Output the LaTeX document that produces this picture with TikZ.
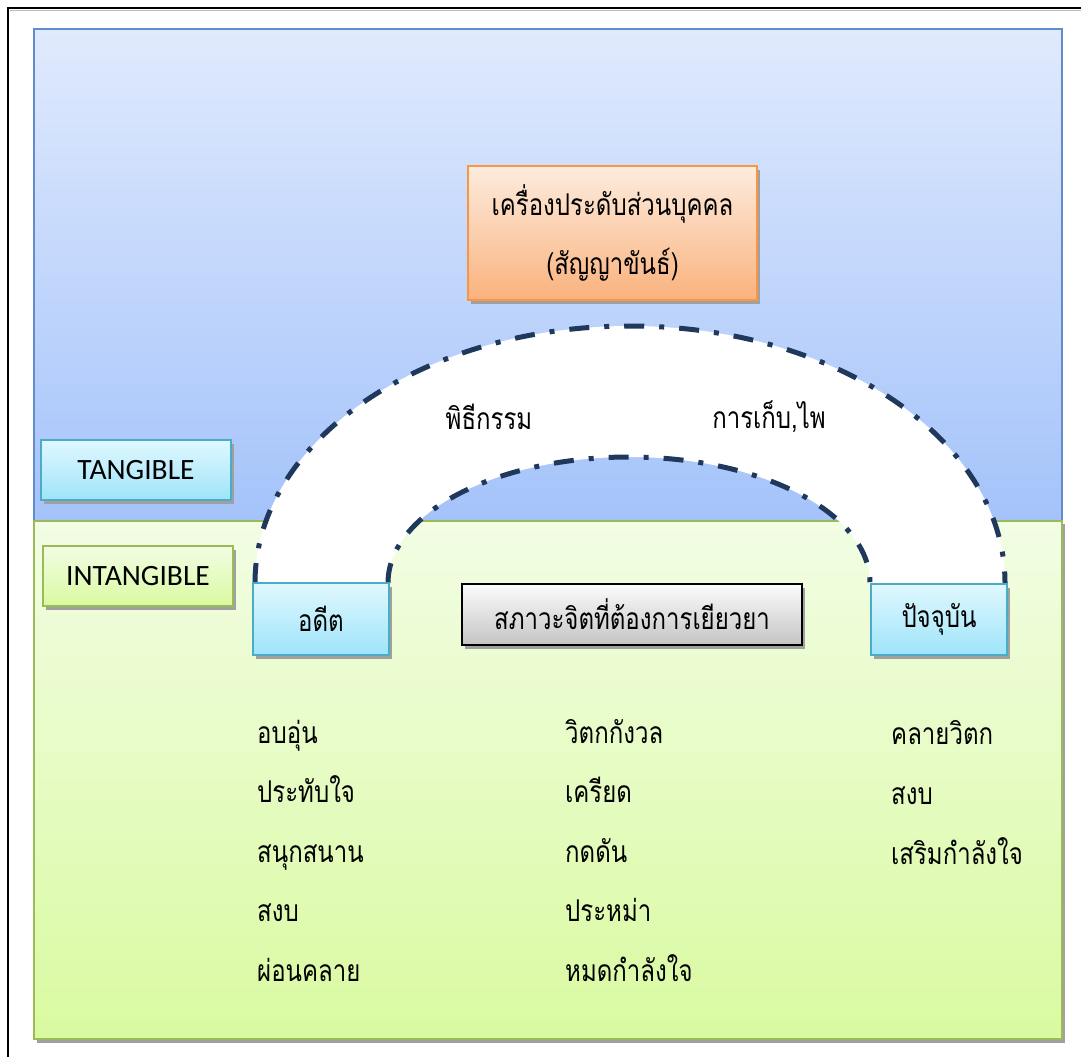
\documentclass[tikz,border=0pt]{standalone}
\usepackage{fontspec}
\setmainfont{Carlito}
\newfontfamily\thai[Script=Thai,FakeStretch=0.8]{Loma}
\usetikzlibrary{shadows}
\definecolor{bluetop}{RGB}{224,234,253}
\definecolor{bluebot}{RGB}{164,195,250}
\definecolor{blueedge}{RGB}{100,140,205}
\definecolor{greentop}{RGB}{242,253,228}
\definecolor{greenbot}{RGB}{217,250,160}
\definecolor{greenedge}{RGB}{155,187,89}
\definecolor{cyantop}{RGB}{224,248,254}
\definecolor{cyanbot}{RGB}{158,228,250}
\definecolor{cyanedge}{RGB}{75,172,198}
\definecolor{orangetop}{RGB}{253,236,222}
\definecolor{orangebot}{RGB}{250,178,125}
\definecolor{orangeedge}{RGB}{247,150,70}
\definecolor{graytop}{RGB}{252,252,252}
\definecolor{graybot}{RGB}{196,196,196}
\definecolor{arcline}{RGB}{31,56,92}
\definecolor{shadowgray}{RGB}{160,160,160}
\tikzset{
  boxshadow/.style={general shadow={fill=shadowgray, shadow xshift=3pt, shadow yshift=-4pt}},
  cyanbox/.style={boxshadow, draw=cyanedge, line width=1.5pt, top color=cyantop, bottom color=cyanbot, inner sep=0pt},
  greenbox/.style={boxshadow, draw=greenedge, line width=1.5pt, top color=greentop, bottom color=greenbot, inner sep=0pt},
  orangebox/.style={boxshadow, draw=orangeedge, line width=1.5pt, top color=orangetop, bottom color=orangebot, inner sep=0pt},
  graybox/.style={boxshadow, draw=black, line width=1.5pt, top color=graytop, bottom color=graybot, inner sep=0pt},
  latinlabel/.style={font=\fontsize{29.5}{34}\selectfont},
  thailabel/.style={font=\thai\fontsize{30}{34}\selectfont},
  listitem/.style={anchor=base west, inner sep=0pt, font=\thai\fontsize{30}{34}\selectfont},
  arcdash/.style={draw=arcline, line width=5pt, dash pattern=on 20pt off 15pt on 5pt off 15pt},
}
\begin{document}
\begin{tikzpicture}[x=1pt,y=-1pt]
\useasboundingbox (0,0) rectangle (1081,1057);
\fill[white] (0,0) rectangle (1081,1057);
% outer frame
\draw[black, line width=2.5pt] (8,1057) -- (8,8) -- (1081,8);
\draw[gray!50, line width=1pt] (10,10.5) -- (1081,10.5);
% background regions
\fill[shadowgray] (37,524) rectangle (1065,1043);
\shade[top color=bluetop, bottom color=bluebot, draw=blueedge, line width=2pt] (34,29) rectangle (1062,521);
\shade[top color=greentop, bottom color=greenbot, draw=greenedge, line width=2pt] (34,521) rectangle (1062,1039);
% arch
\fill[white] (255,583) arc[start angle=180, end angle=360, x radius=375, y radius=257]
  -- (870,583) arc[start angle=0, end angle=-180, x radius=241, y radius=126] -- cycle;
\draw[arcdash] (255,583) arc[start angle=180, end angle=360, x radius=375, y radius=257];
\draw[arcdash] (388,583) arc[start angle=180, end angle=360, x radius=241, y radius=126];
% boxes
\node[orangebox, minimum width=289pt, minimum height=134pt, align=center, thailabel] (jewel) at (612.5,233)
  {เครื่องประดับส่วนบุคคล\\[24pt](สัญญาขันธ์)};
\node[cyanbox, minimum width=190pt, minimum height=60pt, latinlabel] (tangible) at (136,470) {TANGIBLE};
\node[greenbox, minimum width=190pt, minimum height=60pt, latinlabel] (intangible) at (138,576) {INTANGIBLE};
\node[cyanbox, minimum width=136pt, minimum height=72pt, thailabel] (past) at (321,619) {อดีต};
\node[graybox, minimum width=340pt, minimum height=61pt, thailabel] (state) at (632,614.5) {สภาวะจิตที่ต้องการเยียวยา};
\node[cyanbox, minimum width=136pt, minimum height=71pt, thailabel] (present) at (939,619.5) {ปัจจุบัน};
% arch labels
\node[thailabel, inner sep=0pt] (ritual) at (489,417) {พิธีกรรม};
\node[thailabel, inner sep=0pt] (keep) at (769,417) {การเก็บ,ไพ};
% lists
\node[listitem] (a1) at (257,743) {อบอุ่น};
\node[listitem] (a2) at (257,802) {ประทับใจ};
\node[listitem] (a3) at (257,862) {สนุกสนาน};
\node[listitem] (a4) at (257,921) {สงบ};
\node[listitem] (a5) at (257,981) {ผ่อนคลาย};
\node[listitem] (b1) at (565,743) {วิตกกังวล};
\node[listitem] (b2) at (565,802) {เครียด};
\node[listitem] (b3) at (565,862) {กดดัน};
\node[listitem] (b4) at (565,921) {ประหม่า};
\node[listitem] (b5) at (565,981) {หมดกำลังใจ};
\node[listitem] (c1) at (891,744) {คลายวิตก};
\node[listitem] (c2) at (891,804) {สงบ};
\node[listitem] (c3) at (891,864) {เสริมกำลังใจ};
\end{tikzpicture}
\end{document}
